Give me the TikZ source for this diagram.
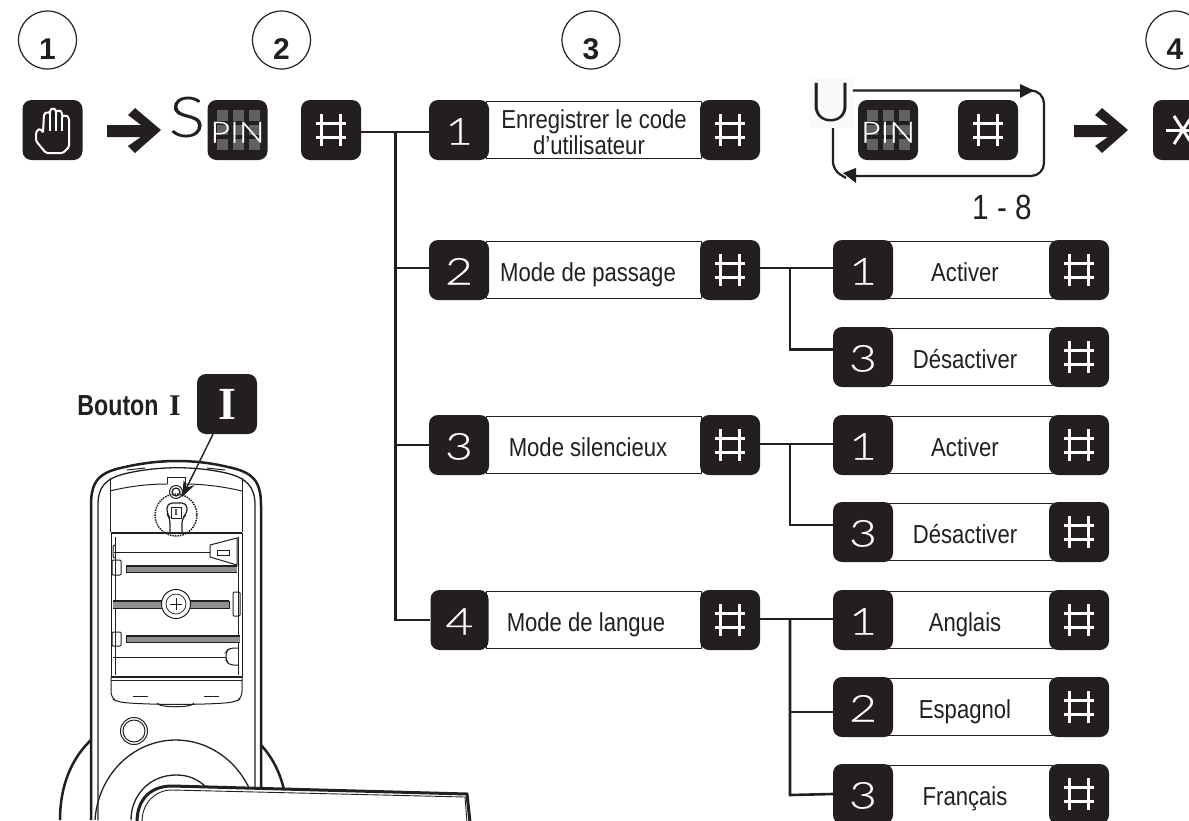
\documentclass[tikz,border=0pt]{standalone}
\usepackage{fontspec}
\usetikzlibrary{arrows.meta}
\setmainfont{Liberation Sans}
\newfontfamily\condf[FakeStretch=0.85]{Liberation Sans}
\newfontfamily\condb[FakeStretch=0.8]{Liberation Sans}
\newfontfamily\lightf[FakeStretch=1.3,FakeBold=0.4]{Lato Light}
\newfontfamily\pinf[FakeStretch=1.17,FakeBold=0.25]{Lato Light}
\newfontfamily\bigf[FakeStretch=1.22,FakeBold=0.3]{Lato Light}
\newfontfamily\bigu[FakeStretch=1.1]{Lato Light}
\newfontfamily\serf{Liberation Serif}
\definecolor{keyk}{HTML}{231F20}
\newcommand{\fs}[1]{\fontsize{#1}{#1}\selectfont}
\newcommand{\kd}[1]{\smash{\raisebox{-14.5pt}{#1}}}
\newcommand{\pn}{\smash{\raisebox{-12.5pt}{PIN}}}
\newcommand{\cd}[1]{\smash{\raisebox{-19pt}{#1}}}
\tikzset{
 x=1pt,y=-1pt,
 conn/.style={keyk,line width=2.6},
 keybox/.style={fill=keyk,rounded corners=9,minimum width=60,minimum height=60,inner sep=0,text=white,font=\lightf\fs{37}},
 hashkey/.style={keybox,path picture={
   \begin{scope}[sharp corners]
   \draw[white,line width=3] ([xshift=-9.5pt,yshift=-16pt]path picture bounding box.center)--++(0,32pt);
   \draw[white,line width=3] ([xshift=9.5pt,yshift=-16pt]path picture bounding box.center)--++(0,32pt);
   \draw[white,line width=3] ([xshift=-15pt,yshift=-7pt]path picture bounding box.center)--++(30pt,0);
   \draw[white,line width=3] ([xshift=-15pt,yshift=7pt]path picture bounding box.center)--++(30pt,0);
   \end{scope}
 }},
 pinkey/.style={keybox,font=\pinf\fs{29},path picture={
   \begin{scope}[sharp corners]
   \foreach \dx in {-21,-5,11}{
     \fill[black!62] ([xshift=\dx pt,yshift=-20pt]path picture bounding box.center) rectangle ++(11pt,40pt);
   }
   \fill[keyk] ([xshift=-21pt,yshift=5pt]path picture bounding box.center) rectangle ++(43pt,4pt);
   \fill[keyk] ([xshift=-21pt,yshift=-9pt]path picture bounding box.center) rectangle ++(43pt,4pt);
   \end{scope}
 }},
 labelbox/.style={draw=keyk,line width=1.1,minimum height=57,inner sep=0,font=\condf\fs{26},text=keyk},
 onelbl/.style={labelbox,text height=22,text depth=0},
 stepcirc/.style={draw=keyk,line width=1.2,circle,minimum size=58,inner sep=0,font=\bfseries\fs{30},text=keyk},
 bigarrow/.style={fill=keyk},
 lk/.style={draw=keyk,line width=1},
 lkb/.style={draw=keyk,line width=2.5},
}
\begin{document}
\begin{tikzpicture}
\clip (0,0) rectangle (1189,820);
% step circles
\node[stepcirc] (c1) at (47.5,40) {\cd{1}};
\node[stepcirc] (c2) at (281.5,40) {\cd{2}};
\node[stepcirc] (c3) at (591,40) {\cd{3}};
\node[stepcirc] (c4) at (1175,40) {\cd{4}};
% first row
\node[keybox] (hand) at (52.5,130) {};
\draw[white,line width=2,rounded corners=1.5] (43,133)--(41,129)--(37,130)--(36,134)--(36,141)--(46,153)--(63,153)--(69,147)--(69,118)--(66,115)--(62,117)--(62,112)--(59,110)--(56,112)--(56,110)--(53,108)--(50,110)--(50,113)--(47,112)--(44,114)--cycle;
\draw[white,line width=2] (50,112)--(50,131) (56,112)--(56,131) (62,117)--(62,131);
\fill[bigarrow] (107,125)--(141,125)--(128,115)--(135,108)--(161,130)--(135,153)--(128,146)--(141,137)--(107,137)--cycle;
\node[font=\bigf\fs{56},text=keyk,inner sep=0] (ls) at (187,117) {S};
\node[pinkey] (pin1) at (237.5,130) {\pn};
\node[hashkey] (h0) at (331,130) {};
% menu rows
\node[labelbox,minimum width=215] (t1) at (594,130) {\fontsize{26}{25}\selectfont\smash{\raisebox{-12pt}{\begin{tabular}{@{}c@{}}Enregistrer le code\\[0pt]\hspace*{-10pt}d’utilisateur\end{tabular}}}};
\node[onelbl,minimum width=215] (t2) at (594,270) {\hspace*{-12pt}Mode de passage};
\node[onelbl,minimum width=215] (t3) at (594,445) {\hspace*{-12pt}Mode silencieux};
\node[onelbl,minimum width=215] (t4) at (594,620) {\hspace*{-16pt}Mode de langue};
\node[keybox] (m1) at (459,130) {\kd{1}};
\node[keybox] (m2) at (459,270) {\kd{2}};
\node[keybox] (m3) at (459,445) {\kd{3}};
\node[keybox,minimum width=58] (m4) at (459.5,620) {\kd{4}};
\node[hashkey] (mh1) at (730,130) {};
\node[hashkey] (mh2) at (730,270) {};
\node[hashkey] (mh3) at (730,445) {};
\node[hashkey] (mh4) at (730,620) {};
% sub rows
\foreach \nm/\yy/\tx in {a/270/Activer,b/357/Désactiver,c/445/Activer,d/532/Désactiver,e/620/Anglais,f/707/Espagnol,g/794/Français}{
  \node[onelbl,minimum width=165] (s\nm) at (970,\yy) {\hspace*{-10pt}\tx};
  \node[hashkey] (sh\nm) at (1079,\yy) {};
}
\node[keybox] (ka) at (863,270) {\kd{1}};
\node[keybox] (kb) at (863,357) {\kd{3}};
\node[keybox] (kc) at (863,445) {\kd{1}};
\node[keybox] (kd) at (863,532) {\kd{3}};
\node[keybox] (ke) at (863,620) {\kd{1}};
\node[keybox] (kf) at (863,707) {\kd{2}};
\node[keybox] (kg) at (863,794) {\kd{3}};
% connectors
\draw[conn] ([yshift=-2pt]h0.east)--([yshift=-2pt]m1.west);
\draw[conn] (395.7,132)--(395.7,620)--(m4.west);
\draw[conn] (395.7,268)--([yshift=2pt]m2.west);
\draw[conn] (395.7,445)--(m3.west);
\coordinate (tra) at (790,268);
\draw[conn] ([yshift=2pt]mh2.east)--([yshift=2pt]ka.west);
\draw[conn] (tra)--(790,349.5)--([yshift=7.5pt]kb.west);
\draw[conn] ([yshift=1pt]mh3.east)--([yshift=1pt]kc.west);
\draw[conn] (790,444)--(790,525)--([yshift=7pt]kd.west);
\draw[conn] ([yshift=1pt]mh4.east)--([yshift=1pt]ke.west);
\draw[conn] (790,619)--(790,795)--(kg.west);
\draw[conn] (790,712)--([yshift=-5pt]kf.west);
% loop
\node[pinkey] (pin2) at (888,130) {\pn};
\node[hashkey] (lh) at (988,130) {};
\node[fill=black!2,minimum width=42,minimum height=50,inner sep=0,font=\bigu\fs{54},text=keyk] (lu) at (831,103) {U};
\draw[conn,line width=2.2,rounded corners=13] (lu.east |- 0,90.5)--(1044,90.5)--(1044,176)--(850,176);
\draw[conn,line width=2.2,rounded corners=8] (833,128)--(833,170)--(846,178);
\fill[keyk] (1020,84)--(1034,90.5)--(1020,98)--cycle;
\fill[keyk] (856,168)--(843,173)--(856,183)--cycle;
\node[font=\condf\fs{35},text=keyk,inner sep=0] (rng) at (1002,207) {1 - 8};
\fill[bigarrow] (1074,125)--(1108,125)--(1095,115)--(1102,108)--(1128,130)--(1102,153)--(1095,146)--(1108,137)--(1074,137)--cycle;
\node[keybox,path picture={
  \begin{scope}[sharp corners]
  \draw[white,line width=3] ([xshift=-17pt]path picture bounding box.center)--([xshift=17pt]path picture bounding box.center);
  \draw[white,line width=3] ([xshift=-9pt,yshift=14pt]path picture bounding box.center)--([xshift=9pt,yshift=-14pt]path picture bounding box.center);
  \draw[white,line width=3] ([xshift=9pt,yshift=14pt]path picture bounding box.center)--([xshift=-9pt,yshift=-14pt]path picture bounding box.center);
  \end{scope}
}] (star) at (1183,130) {};
% button label
\node[font=\condb\bfseries\fs{29},text=keyk,inner sep=0,anchor=base] (bt) at (118,415) {Bouton};
\node[font=\serf\bfseries\fs{30},text=keyk,inner sep=0,anchor=base] (bi) at (175,415) {I};
\node[keybox,font=\serf\bfseries\fs{46},text height=31,text depth=0] (ki) at (227,404) {I};
% lock body
\draw[lkb] (91,820)--(91,505) .. controls (91,480) and (100,472) .. (125,467) .. controls (160,459) and (195,459) .. (228,467) .. controls (252,472) and (261,480) .. (261,505)--(261,790);
\draw[lk,line width=1.3] (98,820)--(98,505) .. controls (98,487) and (105,478) .. (128,473) .. controls (160,466) and (195,466) .. (226,473) .. controls (247,478) and (255,487) .. (255,505)--(255,790);
\draw[lk] (127,470)--(145,468);\draw[lk] (207,468)--(225,470);
% inner top
\draw[lk] (110,478)--(110,532); \draw[lk] (242,478)--(242,532);
\draw[lk] (110,491) .. controls (130,486) and (150,484) .. (167,484);
\draw[lk] (185,484) .. controls (205,484) and (225,487) .. (242,491);
\draw[lkb,line width=2.4] (111,533)--(242,533);
% button
\draw[lk] (167,484)--(167,477)--(185,477)--(185,484);
\draw[lk] (176,492) circle[radius=6.5];
\draw[lk,line width=1.3] (176,492) circle[radius=4];
\draw[lk,line width=1.2,rounded corners=5] (170,533)--(170,518)--(167,514)--(167,503)--(187,503)--(187,514)--(182,518)--(182,533);
\draw[lk] (171,507) rectangle (181,518);
\node[font=\serf\bfseries\fs{9},text=keyk,inner sep=0] (bii) at (176,512.5) {I};
\draw[keyk,line width=1.5,densely dotted] (176,515) circle[radius=21];
% battery bay
\draw[lk] (111,533)--(111,677);
\draw[lk] (242,533)--(242,677);
\draw[lk] (115,537)--(115,675); \draw[lk] (238,537)--(238,675);
\draw[lkb,line width=1.6] (111,677)--(242,677);
\draw[lk,line width=.6] (111,680)--(242,680);
\draw[lk,rounded corners=6] (111,677)--(111,698)--(118,702) .. controls (150,705) and (205,705) .. (235,702)--(242,698)--(242,677);
\draw[lk] (157,703) .. controls (158,708) and (193,708) .. (194,703);
\draw[lk] (133,696)--(148,696); \draw[lk] (204,696)--(219,696);
% rails
\draw[lk,line width=.8] (114,552)--(210,552);
\draw[lk] (210,545)--(237,538)--(237,565)--(210,557)--cycle;
\draw[lk] (217,550) rectangle (229,555);
\fill[keyk!50] (126,566) rectangle (237,573); \draw[keyk,line width=1.3] (126,566)--(237,566); \draw[keyk,line width=.7] (126,572.5)--(237,572.5)(126,566)--(126,573);
\fill[keyk!50] (113,601) rectangle (229,608); \draw[keyk,line width=1.3] (113,601)--(229,601); \draw[keyk,line width=.7] (229,601)--(229,608)--(113,608);
\fill[keyk!50] (126,636) rectangle (240,643); \draw[keyk,line width=1.3] (126,636)--(240,636); \draw[keyk,line width=.7] (126,642.5)--(240,642.5)(126,636)--(126,643);
\draw[lk,line width=.7] (113,657)--(226,657);
\draw[lk,fill=white] (176,604) circle[radius=14.5];
\draw[lk,line width=.7] (176,604) circle[radius=10];
\draw[lk,line width=.7] (170,604)--(182,604); \draw[lk,line width=.7] (176,598)--(176,610);
\draw[lk,rounded corners=2] (115,545)--(113,545)--(113,558)--(115,558);
\draw[lk,rounded corners=1] (112,560) rectangle (121,575);
\draw[lk,rounded corners=1] (112,632) rectangle (121,646);
\draw[lk,rounded corners=1] (233,592) rectangle (240,616);
\draw[lk,rounded corners=4] (238,648)--(229,648)--(226,652)--(226,660)--(229,665)--(238,665);
% thumb circle
\draw[lk] (134,731) circle[radius=13.5];
\draw[lk] (134,731) circle[radius=11];
% rosettes
\draw[lkb] (91,740) .. controls (72,758) and (60,785) .. (60,820);
\draw[lkb] (261,745) .. controls (272,757) and (280,772) .. (284,790);
\draw[lk,line width=1.3] (95,820) .. controls (98,775) and (133,740) .. (176,740) .. controls (205,740) and (235,757) .. (250,790);
\draw[lk,line width=1.3] (131,820) .. controls (131,795) and (150,775) .. (176,775) .. controls (187,775) and (196,778) .. (205,786);
% lever
\path[fill=white] (137,822) .. controls (137,800) and (150,786) .. (172,786)--(467,794)--(470,822)--cycle;
\draw[lkb,line width=3] (137,822) .. controls (137,800) and (150,786) .. (172,786)--(467,794)--(470,822);
\draw[lk,line width=.9] (142,822) .. controls (142,803) and (155,790) .. (172,790)--(465,797)--(467,822);
% arrow to button
\draw[keyk,line width=1.4,-{Stealth[length=16pt,width=12pt]}] (ki.south -| 213,441)--(182,497);
\end{tikzpicture}
\end{document}
